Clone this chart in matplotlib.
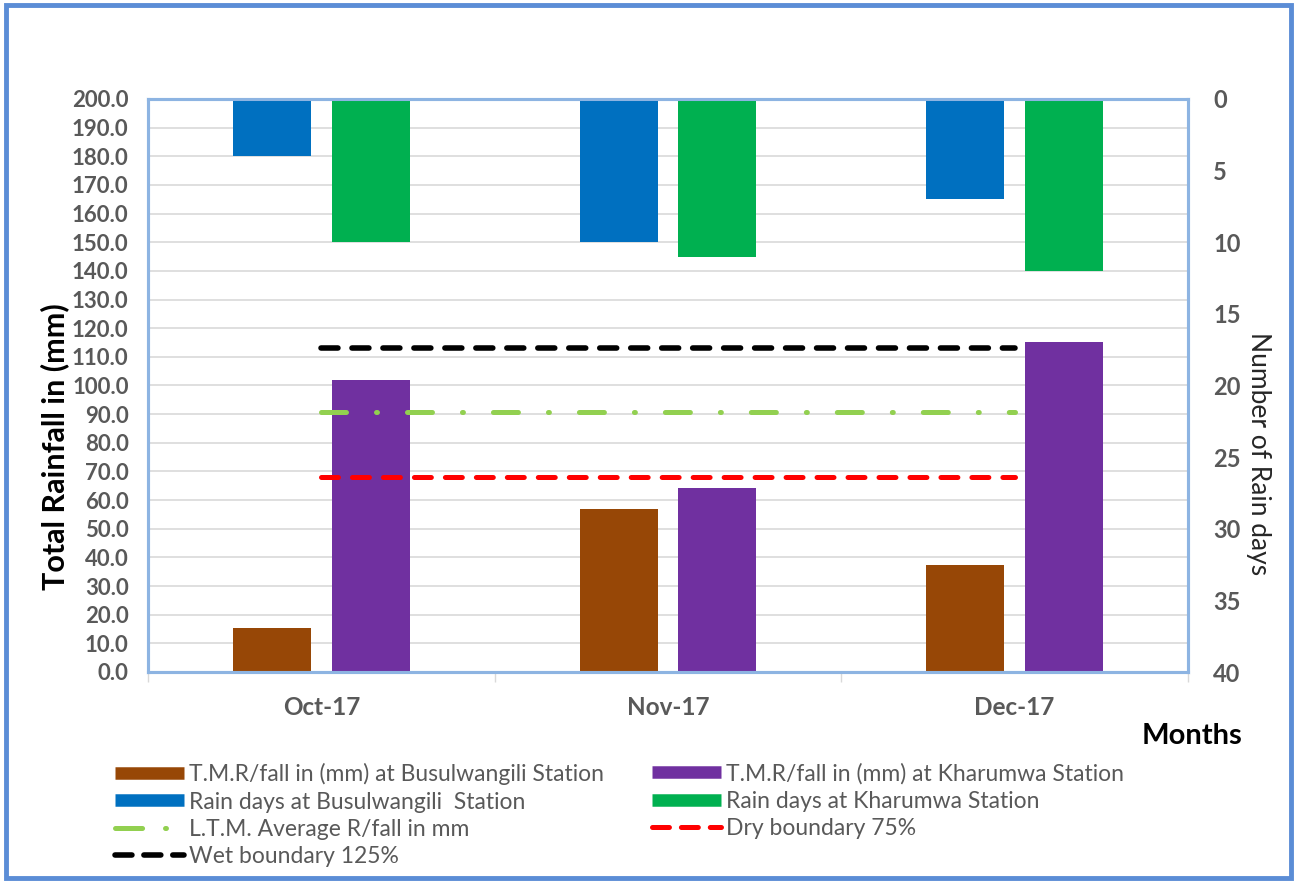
import matplotlib
matplotlib.use("Agg")
import matplotlib.pyplot as plt
import numpy as np
from matplotlib.lines import Line2D
from matplotlib.patches import Rectangle

plt.rcParams['font.family'] = ['Lato', 'DejaVu Sans']
plt.rcParams['lines.scale_dashes'] = False

months = ["Oct-17", "Nov-17", "Dec-17"]
rain_busul = [15.4, 56.8, 37.5]
rain_kharu = [101.8, 64.3, 115.3]
days_busul = [4, 10, 7]
days_kharu = [10, 11, 12]
ltm_avg = [90.6, 90.6, 90.6]
dry_75 = [67.9, 67.9, 67.9]
wet_125 = [113.2, 113.2, 113.2]

c_brown = "#974706"
c_purple = "#7030A0"
c_blue = "#0070C0"
c_green = "#00B050"
c_ltm = "#92D050"
c_dry = "#FF0000"
c_wet = "#000000"
tick_col = "#595959"

W, H = 1295, 882
fig = plt.figure(figsize=(W / 100, H / 100), dpi=100)
fig.patch.set_facecolor("white")
fig.patches.append(Rectangle((6 / W, 4 / H), (W - 10) / W, (H - 9) / H,
                             transform=fig.transFigure, fill=False,
                             edgecolor="#5B8DD6", linewidth=3.5, zorder=10))

ax = fig.add_axes([148 / W, 1 - 672 / H, (1188 - 148) / W, (672 - 99) / H])
ax2 = ax.twinx()

x = np.arange(len(months))
bw = 0.225
off = 0.1425

ax.bar(x - off, rain_busul, bw, color=c_brown, zorder=2)
ax.bar(x + off, rain_kharu, bw, color=c_purple, zorder=2)
ax2.bar(x - off, days_busul, bw, color=c_blue, zorder=2)
ax2.bar(x + off, days_kharu, bw, color=c_green, zorder=2)

lw = 3.6
ax.plot(x, wet_125, color=c_wet, lw=4.0, dashes=(12.2, 10.1),
        dash_capstyle="round", zorder=4)
ax.plot(x, ltm_avg, color=c_ltm, lw=lw, dashes=(18, 21.6, 0.7, 21.6),
        dash_capstyle="round", zorder=4)
ax.plot(x, dry_75, color=c_dry, lw=lw, dashes=(12.2, 10.1),
        dash_capstyle="round", zorder=4)

ax.set_xlim(-0.5, 2.5)
ax.set_ylim(0, 200)
ax.set_yticks(np.arange(0, 201, 10))
ax.set_yticklabels([f"{v:.1f}" for v in np.arange(0, 201, 10)])
ax.yaxis.grid(True, color="#D9D9D9", linewidth=1.2, zorder=0)
ax.set_axisbelow(True)
ax2.set_ylim(40, 0)
ax2.set_yticks(np.arange(0, 41, 5))

ax.set_xticks(x)
ax.set_xticklabels(months)
ax.set_xticks([-0.5, 0.5, 1.5, 2.5], minor=True)
ax.tick_params(axis="x", which="major", length=0, pad=17)
ax.tick_params(axis="x", which="minor", length=7, color="#D9D9D9", width=1)
ax.tick_params(axis="y", length=0, pad=14)
ax2.tick_params(axis="y", length=0, pad=18)
for lab in ax.get_yticklabels():
    lab.set_fontsize(16)
for lab in ax.get_xticklabels():
    lab.set_fontsize(17.5)
for lab in ax2.get_yticklabels():
    lab.set_fontsize(17)
for lab in ax.get_xticklabels() + ax.get_yticklabels() + ax2.get_yticklabels():
    lab.set_fontweight("bold")
    lab.set_color(tick_col)

for a in (ax, ax2):
    for s in a.spines.values():
        s.set_color("#8DB4E2")
        s.set_linewidth(2.2)

fig.text(55 / W, 1 - 447 / H, "Total Rainfall in (mm)", rotation=90,
         ha="center", va="center", fontsize=22, fontweight="bold", color="black")
fig.text(1258 / W, 1 - 454 / H, "Number of Rain days", rotation=270,
         ha="center", va="center", fontsize=19, color="#262626")
fig.text(1192 / W, 1 - 736 / H, "Months", ha="center", va="center",
         fontsize=21, fontweight="bold", color="black")

def bar_handle(c):
    return Line2D([], [], color=c, lw=9, solid_capstyle="butt")

h1 = [bar_handle(c_brown), bar_handle(c_blue),
      Line2D([], [], color=c_ltm, lw=lw, dashes=(19.5, 16.5, 0.7, 30), dash_capstyle="round"),
      Line2D([], [], color=c_wet, lw=4.0, dashes=(12.2, 8.6), dash_capstyle="round")]
l1 = ["T.M.R/fall in (mm) at Busulwangili Station",
      "Rain days at Busulwangili  Station",
      "L.T.M. Average R/fall in mm",
      "Wet boundary 125%"]
h2 = [bar_handle(c_purple), bar_handle(c_green),
      Line2D([], [], color=c_dry, lw=lw, dashes=(12.2, 8.6), dash_capstyle="round")]
l2 = ["T.M.R/fall in (mm) at Kharumwa Station",
      "Rain days at Kharumwa Station",
      "Dry boundary 75%"]

fs_leg = 16.5
common = dict(frameon=False, fontsize=fs_leg, handlelength=50 / fs_leg,
              handletextpad=3.6 / fs_leg,
              labelspacing=0.28, borderpad=0, borderaxespad=0,
              loc="upper left", bbox_transform=fig.transFigure, labelcolor=tick_col)
leg1 = fig.legend(h1, l1, bbox_to_anchor=(115 / W, 1 - 763 / H), **common)
leg2 = fig.legend(h2, l2, bbox_to_anchor=(652 / W, 1 - 763 / H), **common)

fig.savefig("out.png", dpi=100, facecolor="white")
